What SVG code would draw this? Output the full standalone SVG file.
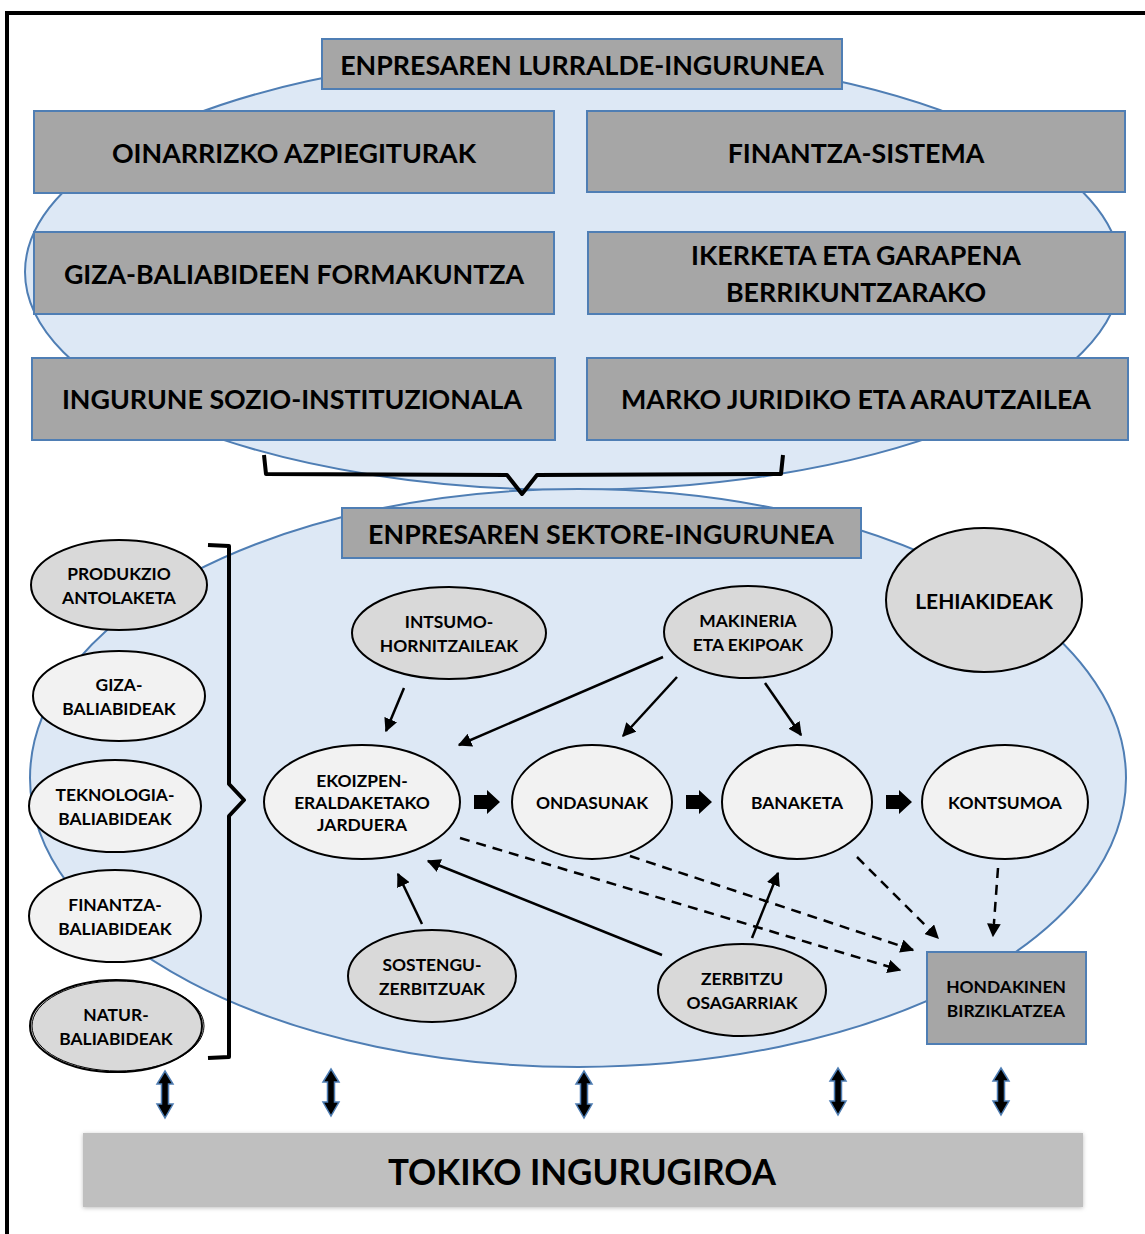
<svg xmlns="http://www.w3.org/2000/svg" width="1145" height="1234" viewBox="0 0 1145 1234">
<defs>
<style>
.t{font-family:Lato,"Open Sans","Liberation Sans",sans-serif;font-weight:bold;fill:#000;text-anchor:middle;dominant-baseline:central}
.big{font-size:26.8px}
.sm{font-size:17.4px}
.box{fill:#a6a6a6;stroke:#4f7eb4;stroke-width:2}
.env{fill:#dde8f5;stroke:#4f7eb4;stroke-width:2}
.nd{fill:#d9d9d9;stroke:#000;stroke-width:2}
.nl{fill:#f2f2f2;stroke:#000;stroke-width:2}
.ar{stroke:#000;stroke-width:2.5;fill:none;marker-end:url(#ah)}
.da{stroke:#000;stroke-width:2.5;fill:none;stroke-dasharray:10 7;marker-end:url(#ah)}
.br{stroke:#000;stroke-width:4;fill:none;stroke-linejoin:round}
.blk{fill:#000}
.dbl{fill:#000;stroke:#4f7eb4;stroke-width:1.5}
</style>
<marker id="ah" viewBox="0 0 10 10" refX="9" refY="5" markerWidth="5.5" markerHeight="5.5" orient="auto" markerUnits="strokeWidth">
<path d="M0,0 L10,5 L0,10 z" fill="#000"/>
</marker>
<filter id="sh" x="-5%" y="-20%" width="110%" height="140%">
<feDropShadow dx="0" dy="1" stdDeviation="2" flood-color="#000" flood-opacity="0.25"/>
</filter>
</defs>
<rect x="7" y="13" width="1160" height="1250" fill="#fff" stroke="#000" stroke-width="4"/>

<!-- environments -->
<ellipse id="territorial-env" class="env" cx="573" cy="272" rx="548" ry="218"/>
<ellipse id="sector-env" class="env" cx="578" cy="778" rx="548" ry="289"/>

<g id="hdr-lurralde"><rect class="box" x="322" y="39" width="520" height="50"/><text class="t big" x="582" y="65">ENPRESAREN LURRALDE-INGURUNEA</text></g>
<g id="oinarrizko"><rect class="box" x="34" y="111" width="520" height="82"/><text class="t big" x="294" y="153">OINARRIZKO AZPIEGITURAK</text></g>
<g id="finantza-sistema"><rect class="box" x="587" y="111" width="538" height="81"/><text class="t big" x="856" y="153">FINANTZA-SISTEMA</text></g>
<g id="giza-formakuntza"><rect class="box" x="34" y="232" width="520" height="82"/><text class="t big" x="294" y="274">GIZA-BALIABIDEEN FORMAKUNTZA</text></g>
<g id="ikerketa"><rect class="box" x="588" y="232" width="537" height="82"/><text class="t big" x="856" y="255">IKERKETA ETA GARAPENA</text><text class="t big" x="856" y="292">BERRIKUNTZARAKO</text></g>
<g id="ingurune-sozio"><rect class="box" x="32" y="358" width="523" height="82"/><text class="t big" x="292" y="399">INGURUNE SOZIO-INSTITUZIONALA</text></g>
<g id="marko-juridiko"><rect class="box" x="587" y="358" width="541" height="82"/><text class="t big" x="856" y="399">MARKO JURIDIKO ETA ARAUTZAILEA</text></g>

<g id="hdr-sektore"><rect class="box" x="342" y="508" width="519" height="50"/><text class="t big" x="601" y="534">ENPRESAREN SEKTORE-INGURUNEA</text></g>

<!-- braces -->
<path id="brace-top" class="br" d="M264,455 L266,474 L507,475 L522,494 L537,475 L781,474 L783,455"/>
<path id="brace-left" class="br" d="M208,545 L229,546 L229,784 L244,800 L229,816 L229,1057 L208,1058"/>

<!-- left resources -->
<g id="produkzio"><ellipse class="nd" cx="119" cy="585" rx="88" ry="45"/><text class="t sm" x="119" y="573">PRODUKZIO</text><text class="t sm" x="119" y="597">ANTOLAKETA</text></g>
<g id="giza-baliabideak"><ellipse class="nl" cx="119" cy="696" rx="86" ry="45"/><text class="t sm" x="119" y="684">GIZA-</text><text class="t sm" x="119" y="708">BALIABIDEAK</text></g>
<g id="teknologia"><ellipse class="nl" cx="115" cy="806" rx="86" ry="46"/><text class="t sm" x="115" y="794">TEKNOLOGIA-</text><text class="t sm" x="115" y="818">BALIABIDEAK</text></g>
<g id="finantza-baliabideak"><ellipse class="nl" cx="115" cy="916" rx="86" ry="46"/><text class="t sm" x="115" y="904">FINANTZA-</text><text class="t sm" x="115" y="928">BALIABIDEAK</text></g>
<g id="natur"><ellipse class="nd" cx="116" cy="1026" rx="86" ry="46"/><ellipse cx="118" cy="1026" rx="86" ry="45" fill="none" stroke="#000" stroke-width="1"/><text class="t sm" x="116" y="1014">NATUR-</text><text class="t sm" x="116" y="1038">BALIABIDEAK</text></g>

<!-- sector nodes -->
<g id="intsumo"><ellipse class="nd" cx="449" cy="633" rx="97" ry="46"/><text class="t sm" x="449" y="621">INTSUMO-</text><text class="t sm" x="449" y="645">HORNITZAILEAK</text></g>
<g id="makineria"><ellipse class="nd" cx="748" cy="632" rx="84" ry="46"/><text class="t sm" x="748" y="620">MAKINERIA</text><text class="t sm" x="748" y="644">ETA EKIPOAK</text></g>
<g id="lehiakideak"><ellipse class="nd" cx="984" cy="600" rx="98" ry="72"/><text class="t" style="font-size:21px" x="984" y="600">LEHIAKIDEAK</text></g>
<g id="ekoizpen"><ellipse class="nl" cx="362" cy="802" rx="98" ry="57"/><text class="t sm" x="362" y="780">EKOIZPEN-</text><text class="t sm" x="362" y="802">ERALDAKETAKO</text><text class="t sm" x="362" y="824">JARDUERA</text></g>
<g id="ondasunak"><ellipse class="nl" cx="592" cy="802" rx="80" ry="57"/><text class="t sm" x="592" y="802">ONDASUNAK</text></g>
<g id="banaketa"><ellipse class="nl" cx="797" cy="802" rx="75" ry="57"/><text class="t sm" x="797" y="802">BANAKETA</text></g>
<g id="kontsumoa"><ellipse class="nl" cx="1005" cy="802" rx="83" ry="57"/><text class="t sm" x="1005" y="802">KONTSUMOA</text></g>
<g id="sostengu"><ellipse class="nd" cx="432" cy="976" rx="84" ry="46"/><text class="t sm" x="432" y="964">SOSTENGU-</text><text class="t sm" x="432" y="988">ZERBITZUAK</text></g>
<g id="zerbitzu"><ellipse class="nd" cx="742" cy="990" rx="84" ry="46"/><text class="t sm" x="742" y="978">ZERBITZU</text><text class="t sm" x="742" y="1002">OSAGARRIAK</text></g>
<g id="hondakinen"><rect class="box" x="927" y="952" width="159" height="92"/><text class="t sm" x="1006" y="986">HONDAKINEN</text><text class="t sm" x="1006" y="1010">BIRZIKLATZEA</text></g>

<g id="tokiko"><rect x="83" y="1133" width="1000" height="74" fill="#bfbfbf" filter="url(#sh)"/><text class="t" style="font-size:36px" x="582" y="1171" transform="translate(582 0) scale(0.97 1) translate(-582 0)">TOKIKO INGURUGIROA</text></g>

<!-- connectors -->
<g id="connectors">
<path class="ar" d="M404,688 L386,731"/>
<path class="ar" d="M663,657 L459,745"/>
<path class="ar" d="M677,677 L623,736"/>
<path class="ar" d="M765,683 L801,735"/>
<path class="ar" d="M422,924 L398,874"/>
<path class="ar" d="M662,955 L428,861"/>
<path class="ar" d="M752,938 L778,873"/>
<path class="da" d="M460,838 L900,970"/>
<path class="da" d="M630,856 L913,950"/>
<path class="da" d="M857,857 L938,938"/>
<path class="da" d="M998,868 L993,936"/>
<path class="blk" d="M474,795 L487,795 L487,790 L500,802 L487,814 L487,809 L474,809 Z"/>
<path class="blk" d="M686,795 L699,795 L699,790 L712,802 L699,814 L699,809 L686,809 Z"/>
<path class="blk" d="M886,795 L899,795 L899,790 L912,802 L899,814 L899,809 L886,809 Z"/>
<path class="dbl" d="M165,1071 L173,1084 L168.5,1084 L168.5,1104 L173,1104 L165,1118 L157,1104 L161.5,1104 L161.5,1084 L157,1084 Z"/>
<path class="dbl" d="M331,1069 L339,1082 L334.5,1082 L334.5,1102 L339,1102 L331,1116 L323,1102 L327.5,1102 L327.5,1082 L323,1082 Z"/>
<path class="dbl" d="M584,1071 L592,1084 L587.5,1084 L587.5,1104 L592,1104 L584,1118 L576,1104 L580.5,1104 L580.5,1084 L576,1084 Z"/>
<path class="dbl" d="M838,1068 L846,1081 L841.5,1081 L841.5,1101 L846,1101 L838,1115 L830,1101 L834.5,1101 L834.5,1081 L830,1081 Z"/>
<path class="dbl" d="M1001,1068 L1009,1081 L1004.5,1081 L1004.5,1101 L1009,1101 L1001,1115 L993,1101 L997.5,1101 L997.5,1081 L993,1081 Z"/>
</g>
</svg>
